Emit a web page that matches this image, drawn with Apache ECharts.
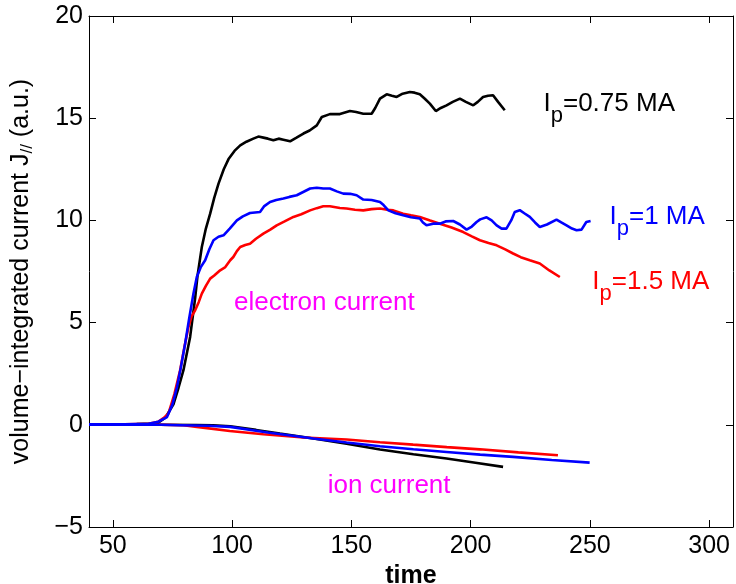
<!DOCTYPE html>
<html>
<head>
<meta charset="utf-8">
<script src="https://cdn.jsdelivr.net/npm/echarts@6/dist/echarts.min.js"></script>
<style>html,body{margin:0;padding:0;background:#fff}#c{width:736px;height:584px}</style>
</head>
<body>
<div id="c"></div>
<script>
// tick values
const xTicks = [50, 100, 150, 200, 250, 300];
const yTicks = [-5, 0, 5, 10, 15, 20];

// electron current, [time, value]
const elecBlack = [[40,0.03],[50,0.03],[60,0.04],[66,0.06],[69,0.1],[72,0.35],[75.4,1.0],[77.5,1.8],[79.6,2.67],[82.4,4.3],[84.5,6.2],[85.5,7.3],[87.3,8.7],[89,9.6],[90.8,10.33],[92.5,11.1],[94.3,11.8],[96.5,12.5],[98.5,13.0],[101,13.4],[103.4,13.67],[106,13.85],[108.9,14.0],[111,14.1],[113.1,14.05],[115,14.0],[117.3,13.92],[119.5,14.0],[121.5,13.95],[124.3,13.87],[127,14.05],[129.9,14.25],[132.5,14.4],[135.5,14.65],[137.6,15.06],[141,15.2],[145.2,15.2],[149.4,15.35],[152,15.3],[155,15.22],[158.5,15.22],[160,15.5],[162,15.96],[164.8,16.17],[167,16.1],[169,16.04],[171.5,16.2],[174.5,16.28],[176.5,16.25],[178.7,16.17],[180.8,15.95],[182.9,15.71],[185.4,15.35],[187.5,15.5],[189.9,15.63],[192.5,15.8],[195.5,15.96],[198,15.8],[201.1,15.63],[203,15.8],[205.2,16.04],[207.3,16.1],[209.4,16.12],[211.5,15.8],[214.3,15.39]];
const elecBlue = [[40,0.03],[55,0.03],[65,0.05],[69,0.15],[72.7,0.38],[75,1.0],[76.9,1.85],[78.5,2.8],[80.3,3.97],[82,5.2],[83.8,6.42],[85.2,7.23],[86.8,7.7],[88.7,8.05],[90.5,8.6],[92.2,9.03],[94.3,9.2],[96.4,9.27],[99,9.6],[102,10.0],[104.5,10.2],[107.5,10.36],[111.7,10.41],[113.5,10.7],[115.9,10.9],[118.5,11.0],[121.5,11.07],[124,11.15],[127.1,11.23],[130,11.4],[132.7,11.56],[135.5,11.6],[138.2,11.56],[141,11.56],[143.9,11.42],[146.6,11.31],[149.5,11.3],[152.2,11.23],[155,11.02],[158.5,11.0],[162,10.9],[163.5,10.75],[165.5,10.49],[168.5,10.35],[171.7,10.25],[175,10.15],[178.7,10.09],[180,9.9],[181.5,9.76],[184.3,9.84],[187.1,9.84],[189.5,9.95],[192.7,9.97],[195.5,9.8],[198.3,9.55],[200.5,9.7],[202.5,9.92],[204,10.05],[206.7,10.15],[208.8,10.0],[210.9,9.76],[213,9.6],[215,9.6],[217,10.0],[218.5,10.41],[220.6,10.5],[222.5,10.35],[224.8,10.17],[227,9.9],[229,9.68],[232,9.8],[236,10.04],[238,9.9],[240.2,9.76],[242.5,9.6],[244.4,9.52],[246.5,9.55],[248.5,9.92],[250.3,9.97]];
const elecRed = [[40,0.03],[55,0.03],[65,0.05],[69,0.15],[71.5,0.35],[73.3,0.55],[75.8,1.5],[78.2,2.67],[80,3.8],[81.7,4.78],[83,5.3],[84.5,5.6],[86,6.0],[87.3,6.42],[89,6.8],[90.8,7.15],[92.5,7.3],[95,7.56],[97,7.7],[99.2,8.05],[100.5,8.21],[102,8.5],[103.4,8.7],[105.5,8.8],[107.5,8.86],[110,9.1],[113.1,9.35],[116,9.55],[118.7,9.76],[122,9.95],[125.7,10.17],[129,10.3],[132.7,10.49],[135.5,10.6],[138.2,10.69],[141,10.69],[145.2,10.61],[148,10.58],[151.5,10.52],[155,10.49],[158.5,10.55],[162,10.58],[165,10.52],[167.6,10.49],[171.7,10.33],[175,10.25],[178.7,10.17],[183,10.0],[187.1,9.84],[192,9.65],[196.9,9.43],[200.5,9.22],[203.9,9.03],[207.5,8.9],[210.9,8.78],[214.5,8.58],[217.8,8.38],[221,8.2],[224.8,8.05],[229,7.89],[233,7.55],[237.4,7.23]];

// ion current, [time, value]
const ionBlack = [[40,0],[70,0],[85,-0.01],[92,-0.03],[99.2,-0.07],[110,-0.25],[120,-0.43],[134.1,-0.67],[148,-0.93],[162,-1.21],[176,-1.44],[189.9,-1.65],[202,-1.86],[213.6,-2.06]];
const ionBlue = [[40,0],[70,0],[78.2,-0.02],[90,-0.05],[99.2,-0.1],[115,-0.38],[134.1,-0.67],[148,-0.87],[162,-1.05],[176,-1.2],[189.9,-1.33],[204,-1.46],[217.8,-1.57],[234,-1.72],[249.9,-1.85]];
const ionRed = [[40,0],[70,0],[79.6,-0.02],[85.2,-0.1],[99,-0.3],[113.1,-0.46],[130,-0.62],[148,-0.72],[162,-0.85],[175.9,-0.97],[190,-1.09],[203.9,-1.2],[220,-1.35],[236.6,-1.49]];

const FONT = 'Liberation Sans';
const chart = echarts.init(document.getElementById('c'), null, {renderer: 'canvas'});

function line(data, color) {
  return {type: 'line', data: data, showSymbol: false, symbol: 'none', animation: false,
    lineStyle: {color: color, width: 2.6}, itemStyle: {color: color}, z: 3};
}
const tickStyle = {show: true, inside: true, length: 7, lineStyle: {color: '#000', width: 1}};
const lineStyleAx = {show: true, onZero: false, lineStyle: {color: '#000', width: 1}};

// text measuring for the subscript labels
const mctx = document.createElement('canvas').getContext('2d');
function tw(text, size) { mctx.font = size + 'px "' + FONT + '"'; return mctx.measureText(text).width; }
const MAIN = 26, SUB = 22;
function txt(x, cy, text, size, color) {
  return {type: 'text', x: x, y: cy, z: 10,
    style: {text: text, fill: color, fontFamily: FONT, fontSize: size, align: 'left', verticalAlign: 'middle'}};
}
// label "I_p<rest>" with left x and baseline y
function annot(x, base, rest, color) {
  const cMain = base - 0.3465 * MAIN;
  const cSub = base + 10.5 - 0.3465 * SUB;
  const wI = tw('I', MAIN), wp = tw('p', SUB);
  return [txt(x, cMain, 'I', MAIN, color), txt(x + wI, cSub, 'p', SUB, color), txt(x + wI + wp, cMain, rest, MAIN, color)];
}

chart.setOption({
  backgroundColor: '#fff',
  animation: false,
  grid: {left: 89, top: 16, width: 644, height: 511, containLabel: false, outerBoundsMode: 'none'},
  xAxis: [{
    type: 'value', position: 'bottom', min: 40, max: 310,
    axisLine: lineStyleAx,
    axisTick: Object.assign({customValues: xTicks}, tickStyle),
    axisLabel: {customValues: xTicks, fontSize: 25, fontFamily: FONT, color: '#000', margin: 7},
    splitLine: {show: false},
    name: 'time', nameLocation: 'middle', nameGap: 32,
    nameTextStyle: {fontSize: 25, fontWeight: 'bold', fontFamily: FONT, color: '#000'}
  }, {
    type: 'value', position: 'top', min: 40, max: 310,
    axisLine: lineStyleAx,
    axisTick: Object.assign({customValues: xTicks}, tickStyle),
    axisLabel: {show: false}, splitLine: {show: false}
  }],
  yAxis: [{
    type: 'value', position: 'left', min: -5, max: 20, interval: 5,
    axisLine: lineStyleAx,
    axisTick: Object.assign({customValues: yTicks}, tickStyle),
    axisLabel: {customValues: yTicks, fontSize: 25, fontFamily: FONT, color: '#000', margin: 6,
      formatter: v => v < 0 ? '\u2212' + Math.abs(v) : String(v)},
    splitLine: {show: false},
    name: '{m|volume\u2212integrated current J}{s|//}{m| (a.u.)}',
    nameLocation: 'middle', nameGap: 46, nameRotate: 90,
    nameTextStyle: {fontSize: 25, fontFamily: FONT, color: '#000',
      rich: {
        m: {fontSize: 25, lineHeight: 30, padding: [0, 0, 10, 0], verticalAlign: 'top', fontFamily: FONT, color: '#000'},
        s: {fontSize: 17, lineHeight: 30, padding: [10, 0, 0, 0], verticalAlign: 'top', fontFamily: FONT, color: '#000'}
      }}
  }, {
    type: 'value', position: 'right', min: -5, max: 20, interval: 5,
    axisLine: lineStyleAx,
    axisTick: Object.assign({customValues: yTicks}, tickStyle),
    axisLabel: {show: false}, splitLine: {show: false}
  }],
  series: [
    line(elecBlack, '#000000'),
    line(ionBlack, '#000000'),
    line(elecRed, '#ff0000'),
    line(ionRed, '#ff0000'),
    line(elecBlue, '#0000ff'),
    line(ionBlue, '#0000ff')
  ],
  graphic: [].concat(
    annot(543.5, 113.3, '=0.75 MA', '#000000'),
    annot(609.5, 226, '=1 MA', '#0000ff'),
    annot(592.3, 291, '=1.5 MA', '#ff0000'),
    [txt(234, 302.6, 'electron current', 26, '#ff00ff'),
     txt(327.7, 486, 'ion current', 26, '#ff00ff')]
  )
});
</script>
</body>
</html>
